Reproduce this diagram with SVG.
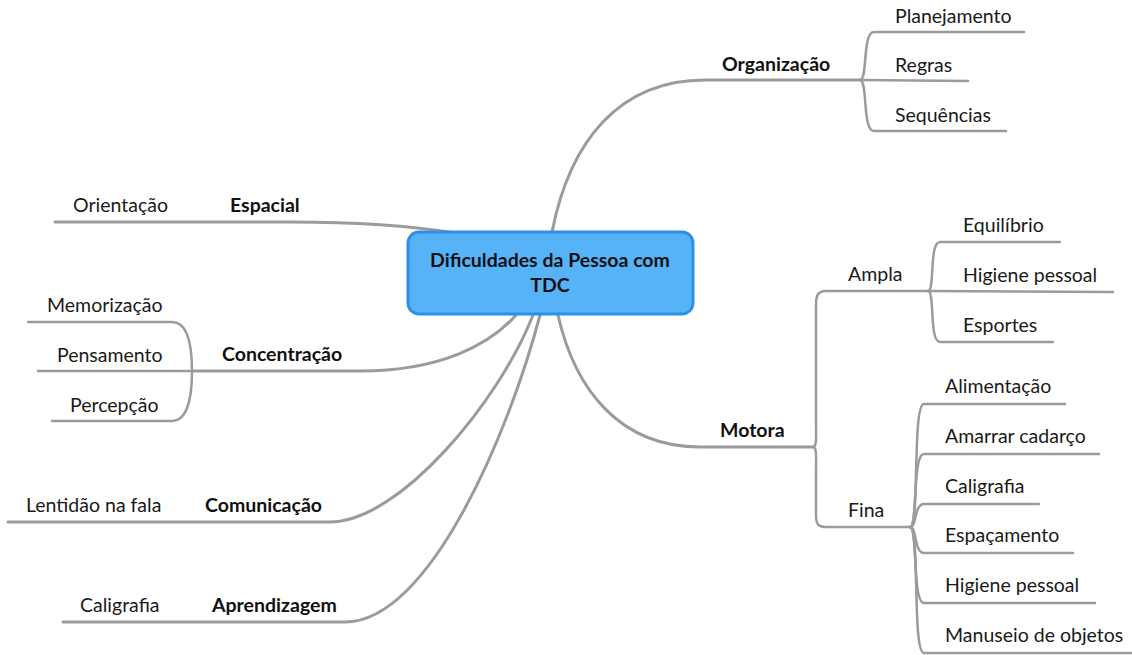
<svg xmlns="http://www.w3.org/2000/svg" width="1132" height="655" viewBox="0 0 1132 655">
<style>
.c{fill:none;stroke:#9b9b9b;stroke-width:3;stroke-linecap:round}
.s{fill:none;stroke:#9b9b9b;stroke-width:2.5;stroke-linecap:round}
.t{font-family:Lato,"Open Sans","Liberation Sans",sans-serif;font-size:19.5px;fill:#1a1a1a}
.b{font-family:Lato,"Open Sans","Liberation Sans",sans-serif;font-size:19.5px;font-weight:bold;fill:#111}
.n{font-family:Lato,"Open Sans","Liberation Sans",sans-serif;font-size:19.5px;font-weight:bold;fill:#111;text-anchor:middle}
</style>
<rect width="1132" height="655" fill="#fff"/>
<g id="connectors">
<path class="c" d="M552,232 C570,140 620,80 705,80 L860,80"/>
<path class="s" d="M860,80 C868,80 862,32 874,32 L1024,32"/>
<path class="s" d="M860,80 L968,81"/>
<path class="s" d="M860,80 C868,80 862,131 874,131 L1006,131"/>
<path class="c" d="M455,233 C400,224 340,222 290,222 L55,222"/>
<path class="c" d="M517,314 C490,345 440,371 360,371 L192,371"/>
<path class="s" d="M192,371 C192,336 184,322 172,322 L28,322"/>
<path class="s" d="M192,371 L38,371"/>
<path class="s" d="M192,371 C192,406 184,421 172,421 L52,421"/>
<path class="c" d="M533,315 C500,400 400,522 330,522 L8,522"/>
<path class="c" d="M540,315 C510,430 430,622 345,622 L63,622"/>
<path class="c" d="M558,315 C575,390 620,447 700,447 L813,447"/>
<path class="s" d="M813,447 C817,447 816,436 816,420 L816,305 C816,295 818,291 826,291 L928,291"/>
<path class="s" d="M813,447 C817,447 816,458 816,475 L816,515 C816,524 818,527 826,527 L910,527"/>
<path class="s" d="M928,291 C935,291 929,242 940,242 L1060,242"/>
<path class="s" d="M928,291 L1113,292"/>
<path class="s" d="M928,291 C935,291 929,342 940,342 L1053,342"/>
<path class="s" d="M910,527 C920,527 912,404 924,404 L1065,404"/>
<path class="s" d="M910,527 C918,527 912,454 924,454 L1099,454"/>
<path class="s" d="M910,527 C917,527 914,504 924,504 L1039,504"/>
<path class="s" d="M910,527 C917,527 914,553 924,553 L1073,553"/>
<path class="s" d="M910,527 C918,527 912,603 924,603 L1095,603"/>
<path class="s" d="M910,527 C920,527 912,653 924,653 L1132,653"/>
</g>
<g id="center">
<rect x="408" y="232" width="285" height="82" rx="11" fill="#56b3f7" stroke="#2f8fe4" stroke-width="3"/>
<text class="n" x="550" y="267">Dificuldades da Pessoa com</text>
<text class="n" x="550" y="292">TDC</text>
</g>
<g id="organizacao"><text class="b" x="722" y="71">Organização</text></g>
<g id="planejamento"><text class="t" x="895" y="23">Planejamento</text></g>
<g id="regras"><text class="t" x="895" y="72">Regras</text></g>
<g id="sequencias"><text class="t" x="895" y="122">Sequências</text></g>
<g id="espacial"><text class="b" x="230" y="212">Espacial</text></g>
<g id="orientacao"><text class="t" x="73" y="212">Orientação</text></g>
<g id="concentracao"><text class="b" x="222" y="361">Concentração</text></g>
<g id="memorizacao"><text class="t" x="47" y="312">Memorização</text></g>
<g id="pensamento"><text class="t" x="57" y="362">Pensamento</text></g>
<g id="percepcao"><text class="t" x="70" y="412">Percepção</text></g>
<g id="comunicacao"><text class="b" x="205" y="512">Comunicação</text></g>
<g id="lentidao"><text class="t" x="26" y="512">Lentidão na fala</text></g>
<g id="aprendizagem"><text class="b" x="212" y="612">Aprendizagem</text></g>
<g id="caligrafia-a"><text class="t" x="80" y="612">Caligrafia</text></g>
<g id="motora"><text class="b" x="720" y="437">Motora</text></g>
<g id="ampla"><text class="t" x="848" y="281">Ampla</text></g>
<g id="equilibrio"><text class="t" x="963" y="232">Equilíbrio</text></g>
<g id="higiene-a"><text class="t" x="963" y="282">Higiene pessoal</text></g>
<g id="esportes"><text class="t" x="963" y="332">Esportes</text></g>
<g id="fina"><text class="t" x="848" y="517">Fina</text></g>
<g id="alimentacao"><text class="t" x="945" y="393">Alimentação</text></g>
<g id="amarrar"><text class="t" x="945" y="443">Amarrar cadarço</text></g>
<g id="caligrafia-f"><text class="t" x="945" y="493">Caligrafia</text></g>
<g id="espacamento"><text class="t" x="945" y="542">Espaçamento</text></g>
<g id="higiene-f"><text class="t" x="945" y="592">Higiene pessoal</text></g>
<g id="manuseio"><text class="t" x="945" y="642">Manuseio de objetos</text></g>
</svg>
